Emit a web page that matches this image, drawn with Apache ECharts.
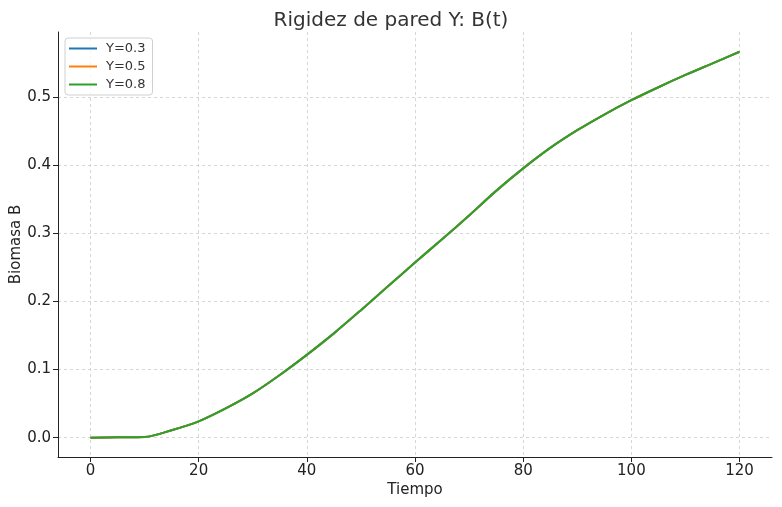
<!DOCTYPE html>
<html>
<head>
<meta charset="utf-8">
<script src="https://cdn.jsdelivr.net/npm/echarts@6/dist/echarts.min.js"></script>
<style>html,body{margin:0;padding:0;background:#fff}#c{width:782px;height:507px}</style>
</head>
<body>
<div id="c"></div>
<script>
var tiempo = [0,5,10,15,20,25,30,35,40,45,50,55,60,65,70,75,80,85,90,95,100,105,110,115,120];
var bY03 = [0,0.0005,0.001,0.011,0.024,0.043,0.065,0.092,0.1215,0.153,0.187,0.222,0.257,0.291,0.326,0.362,0.395,0.425,0.451,0.474,0.495,0.514,0.532,0.549,0.566];
var bY05 = [0,0.0005,0.001,0.011,0.024,0.043,0.065,0.092,0.1215,0.153,0.187,0.222,0.257,0.291,0.326,0.362,0.395,0.425,0.451,0.474,0.495,0.514,0.532,0.549,0.566];
var bY08 = [0,0.0005,0.001,0.011,0.024,0.043,0.065,0.092,0.1215,0.153,0.187,0.222,0.257,0.291,0.326,0.362,0.395,0.425,0.451,0.474,0.495,0.514,0.532,0.549,0.566];
var xTicks = [0,20,40,60,80,100,120];
var yTicks = [0,0.1,0.2,0.3,0.4,0.5];
var names = ['Y=0.3','Y=0.5','Y=0.8'];
var colors = ['#1f77b4','#ff7f0e','#2ca02c'];

function pairs(xs, ys){ return xs.map(function(x,i){return [x, ys[i]];}); }
var F = 'DejaVu Sans';
var chart = echarts.init(document.getElementById('c'));
var series = [bY03,bY05,bY08].map(function(d,i){
  return {name:names[i], type:'line', data:pairs(tiempo,d), showSymbol:false, symbol:'none',
    lineStyle:{width:2, color:colors[i]}, itemStyle:{color:colors[i]}, smooth:0.3, animation:false};
});
chart.setOption({
  animation:false,
  title:{text:'Rigidez de pared Y: B(t)', left:'center', top:6, textStyle:{fontFamily:F, fontSize:20, fontWeight:'normal', color:'#333'}},
  legend:{orient:'vertical', left:65, top:38, padding:[4,7,4,4], itemGap:5, itemWidth:28, itemHeight:2, icon:'rect',
    borderColor:'#d0d0d0', borderWidth:1, borderRadius:3, backgroundColor:'rgba(255,255,255,0.8)',
    textStyle:{fontFamily:F, fontSize:13, color:'#333', padding:[0,0,0,4]}, data:names},
  grid:{left:58, right:10, top:32, bottom:50, containLabel:false, outerBoundsMode:'none'},
  xAxis:{type:'value', min:-6, max:126, name:'Tiempo', nameLocation:'middle', nameGap:26, nameMoveOverlap:false,
    nameTextStyle:{fontFamily:F, fontSize:15, color:'#222'},
    axisLine:{onZero:false, lineStyle:{color:'#222', width:1}},
    axisTick:{show:true, length:5, lineStyle:{color:'#222'}, customValues:xTicks},
    axisLabel:{fontFamily:F, fontSize:15, color:'#222', margin:7, customValues:xTicks},
    splitLine:{show:true, lineStyle:{color:'#cccccc', type:[3,3], width:0.8}}},
  yAxis:{type:'value', min:-0.0283, max:0.595, name:'Biomasa B', nameLocation:'middle', nameGap:34, nameMoveOverlap:false,
    nameTextStyle:{fontFamily:F, fontSize:15, color:'#222'},
    axisLine:{show:true, onZero:false, lineStyle:{color:'#222', width:1}},
    axisTick:{show:true, length:5, lineStyle:{color:'#222'}, customValues:yTicks},
    axisLabel:{fontFamily:F, fontSize:15, color:'#222', margin:7, customValues:yTicks, formatter:function(v){return v.toFixed(1);}},
    splitLine:{show:true, lineStyle:{color:'#cccccc', type:[3,3], width:0.8}}},
  series:series
});
</script>
</body>
</html>
